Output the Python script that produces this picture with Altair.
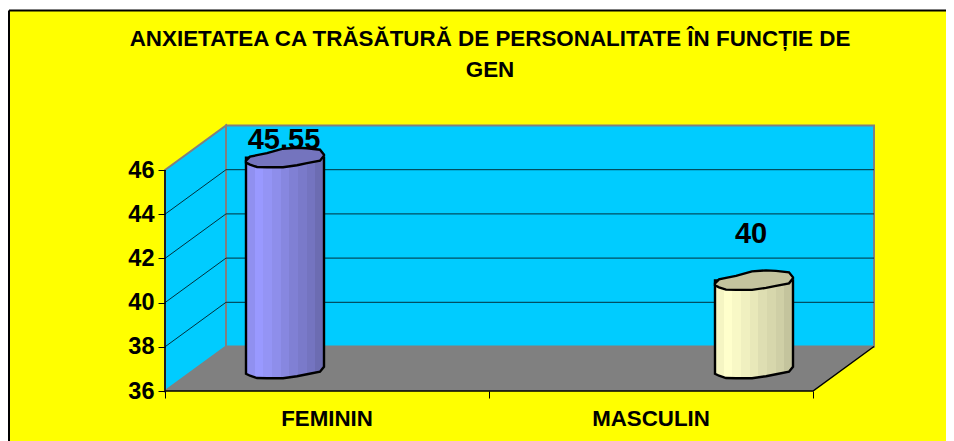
import altair as alt
import pandas as pd

categories = ["FEMININ", "MASCULIN"]
values = [45.55, 40]
value_labels = ["45.55", "40"]
y_ticks = [36, 38, 40, 42, 44, 46]
x_ticks = [0, 1, 2]
title_lines = ["ANXIETATEA CA TRĂSĂTURĂ DE PERSONALITATE ÎN FUNCȚIE DE", "GEN"]

# layout: scale factors of the plot (pixels per unit), used to build the 3D look
PX_CAT = 324.0
PX_VAL = 22.1
X0, Y0 = 165.0, 391.0
W, H = 938, 433
LEFT, TOP = 8, 8


def cx(p):
    return (p - X0) / PX_CAT


def vy(p):
    return 36 + (Y0 - p) / PX_VAL


x_dom = [cx(LEFT), cx(LEFT + W)]
y_dom = [vy(TOP + H), vy(TOP)]
xs = alt.Scale(domain=x_dom, nice=False, zero=False)
ys = alt.Scale(domain=y_dom, nice=False, zero=False)
DX = 61 / PX_CAT
DV = 44.5 / PX_VAL
X = alt.X("x:Q", scale=xs, title=None,
          axis=alt.Axis(values=x_ticks, labels=False, domain=False, grid=False, ticks=True, tickSize=7,
                        tickColor="#000000", tickWidth=1, offset=-50, orient="bottom", title=None, zindex=1))
Y = alt.Y("y:Q", scale=ys, title=None,
          axis=alt.Axis(values=y_ticks, domain=False, grid=False, ticks=True, tickSize=7, tickColor="#000000",
                        tickWidth=1, offset=-157, orient="left", labelFont="Liberation Sans", labelFontWeight="bold",
                        labelFontSize=23.5, labelColor="#000000", labelPadding=4, title=None, zindex=1))

# cylinder cross-section profile, pixels around the bar centre
prof_x = [-39, -35, -28, -18, -2, 12, 22, 35, 39]
prof_up = [3, -1, -2.5, -4.5, -9, -10, -9.5, -8, -3]
prof_lo = [5, 7, 9.3, 9.5, 9.5, 7.5, 5.5, 3, -2]
bar_centre = [cx(285), cx(754)]
label_dx = [-1, -3]
label_dy = [-18, -46]

body_cols = [
    ["#9090F0", "#9999FF", "#9494F5", "#8E8EEB", "#8787E0", "#8080D4", "#7A7ACA", "#7474C0", "#6C6CB2"],
    ["#F5F5C3", "#FFFFCC", "#F8F8C6", "#F0F0C0", "#E8E8B9", "#DEDEB2", "#D7D7AC", "#CFCFA6", "#C4C49D"],
]
cap_cols = ["#7474BE", "#C4C49E"]

bg = alt.Chart(pd.DataFrame({"x": [cx(LEFT + 1)], "x2": [x_dom[1]], "y": [vy(TOP + 2)], "y2": [y_dom[0]]})).mark_rect(
    fill="#FFFF00"
).encode(x=X, x2="x2:Q", y=Y, y2="y2:Q")

edge = alt.Chart(pd.DataFrame({
    "x": [x_dom[0] + 1 / PX_CAT, x_dom[0] + 1 / PX_CAT, x_dom[0] + 1 / PX_CAT, x_dom[1]],
    "y": [y_dom[0], vy(TOP + 2.5), vy(TOP + 2.5), vy(TOP + 2.5)],
    "g": [0, 0, 1, 1],
})).mark_line(stroke="#000000", strokeWidth=2).encode(x=X, y=Y, detail="g:N")

back = alt.Chart(pd.DataFrame({"x": [DX], "x2": [2 + DX], "y": [36 + DV], "y2": [46 + DV]})).mark_rect(
    fill="#00CCFF", stroke="#808080", strokeWidth=2
).encode(x=X, x2="x2:Q", y=Y, y2="y2:Q")

side = alt.Chart(pd.DataFrame({"x": [0, DX], "y": [46, 46 + DV], "y2": [36, 36 + DV]})).mark_area(
    fill="#00CCFF", stroke="#808080", strokeWidth=2
).encode(x=X, y=Y, y2="y2:Q")

floor = alt.Chart(pd.DataFrame({"x": [0, DX, 2, 2 + DX], "y": [36, 36 + DV, 36 + DV, 36 + DV],
                                "y2": [36, 36, 36, 36 + DV]})).mark_area(fill="#808080").encode(
    x=X, y=Y, y2="y2:Q")

grid_rows = []
for t in y_ticks[:-1]:
    if t != 36:
        grid_rows += [{"x": 0, "y": t, "g": t}, {"x": DX, "y": t + DV, "g": t}, {"x": 2 + DX, "y": t + DV, "g": t}]
grid = alt.Chart(pd.DataFrame(grid_rows)).mark_line(stroke="#00303C", strokeWidth=1).encode(x=X, y=Y, detail="g:N")

axes_rows = [
    {"x": 0, "y": 36, "g": 0}, {"x": 0, "y": 46, "g": 0},
    {"x": 0, "y": 36, "g": 1}, {"x": 2, "y": 36, "g": 1}, {"x": 2 + DX, "y": 36 + DV, "g": 1},
]
axes = alt.Chart(pd.DataFrame(axes_rows)).mark_line(stroke="#000000", strokeWidth=1.5).encode(x=X, y=Y, detail="g:N")

bar_layers = []
for i, v in enumerate(values):
    c = bar_centre[i]
    mid = DV / 2
    xr = [c + p / PX_CAT for p in prof_x]
    stops = []
    n = len(body_cols[i])
    for k, col in enumerate(body_cols[i]):
        stops.append(alt.GradientStop(offset=k / n, color=col))
        stops.append(alt.GradientStop(offset=(k + 1) / n, color=col))
    body = alt.Chart(pd.DataFrame({
        "x": xr,
        "y": [v + mid for _ in prof_x],
        "y2": [36 + mid - p / PX_VAL for p in prof_lo],
    })).mark_area(
        fill=alt.LinearGradient(gradient="linear", x1=0, x2=1, y1=0, y2=0, stops=stops),
        stroke="#000000", strokeWidth=2.4,
    ).encode(x=X, y=Y, y2="y2:Q")
    cap = alt.Chart(pd.DataFrame({
        "x": xr,
        "y": [v + mid - p / PX_VAL for p in prof_up],
        "y2": [v + mid - p / PX_VAL for p in prof_lo],
    })).mark_area(fill=cap_cols[i], stroke="#000000", strokeWidth=2.4).encode(x=X, y=Y, y2="y2:Q")
    bar_layers += [body, cap]

val_text = alt.Chart(pd.DataFrame({
    "x": [bar_centre[i] + label_dx[i] / PX_CAT for i in range(2)],
    "y": [values[i] + DV / 2 - label_dy[i] / PX_VAL for i in range(2)],
    "t": value_labels,
})).mark_text(font="Liberation Sans", fontWeight="bold", fontSize=29, color="#000000", baseline="middle").encode(
    x=X, y=Y, text="t:N")

cat_text = alt.Chart(pd.DataFrame({
    "x": [0.5, 1.5],
    "y": [36 - 28 / PX_VAL] * 2,
    "t": categories,
})).mark_text(font="Liberation Sans", fontWeight="bold", fontSize=22.3, color="#000000", baseline="middle").encode(
    x=X, y=Y, text="t:N")

chart = alt.layer(bg, edge, back, side, floor, grid, axes, *bar_layers, val_text, cat_text).properties(
    width=W, height=H, padding=0, background="#FFFFFF",
    autosize=alt.AutoSizeParams(type="none"),
    title=alt.TitleParams(text=title_lines, font="Liberation Sans", fontWeight="bold", fontSize=22.4, color="#000000",
                          anchor="middle", dx=13, baseline="top", lineHeight=31, offset=-75),
).configure_view(stroke=None)

chart.save("out.html", embed_options={"renderer": "svg", "actions": False})
